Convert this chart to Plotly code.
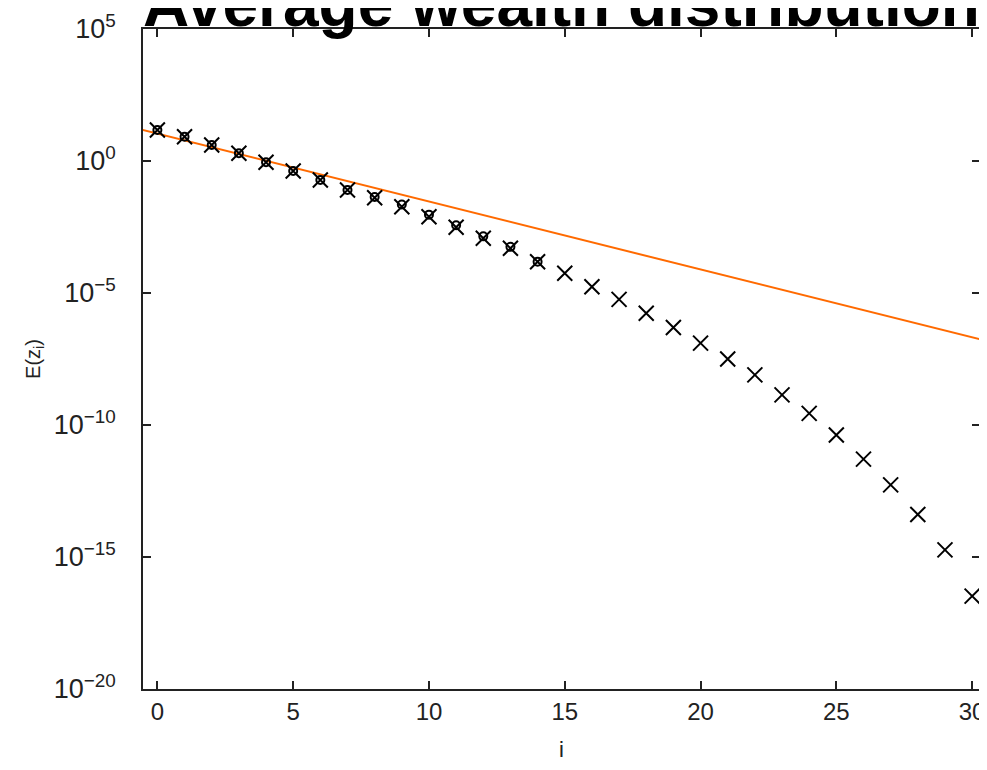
import plotly.graph_objects as go

# Data (log-scale y)
i_vals = list(range(31))
ez_x = [14.9, 8.3, 4.04, 1.96, 0.893, 0.418, 0.19, 0.0798, 0.0407, 0.0186,
        0.00776, 0.00309, 0.00118, 4.93e-4, 1.53e-4, 5.57e-5, 1.73e-5, 5.75e-6,
        1.70e-6, 4.9e-7, 1.26e-7, 3.16e-8, 7.9e-9, 1.38e-9, 2.75e-10, 4.17e-11,
        5.1e-12, 5.4e-13, 4.1e-14, 1.86e-15, 3.3e-17]
i_circ = list(range(15))
ez_circ = [14.9, 8.3, 4.04, 1.96, 0.893, 0.418, 0.19, 0.0798, 0.0430, 0.0225,
           0.0093, 0.0037, 0.00140, 5.6e-4, 1.53e-4]
fit_i = [-1, 31]
fit_ez = [19.6, 1.16e-7]

ytick_vals = [1e-20, 1e-15, 1e-10, 1e-5, 1e0, 1e5]
ytick_text = ["10<sup>\u221220</sup>", "10<sup>\u221215</sup>", "10<sup>\u221210</sup>",
              "10<sup>\u22125</sup>", "10<sup>0</sup>", "10<sup>5</sup>"]
xtick_vals = [0, 5, 10, 15, 20, 25, 30]

FONT = "Liberation Sans, Arial, sans-serif"
INK = "#222222"

fig = go.Figure()
fig.add_trace(go.Scatter(
    x=fit_i, y=fit_ez, mode="lines",
    line=dict(color="#ff6a00", width=2), showlegend=False))
fig.add_trace(go.Scatter(
    x=i_circ, y=ez_circ, mode="markers",
    marker=dict(symbol="circle-open", size=8, color="black",
                line=dict(color="black", width=2)),
    showlegend=False))
fig.add_trace(go.Scatter(
    x=i_vals, y=ez_x, mode="markers",
    marker=dict(symbol="x-thin-open", size=15, color="black",
                line=dict(color="black", width=2)),
    showlegend=False))

# the page body adds an 8px offset, so the figure is 8px smaller and margins compensate
fig.update_layout(
    width=979, height=762,
    margin=dict(l=135, r=7, t=21, b=81, autoexpand=False),
    paper_bgcolor="white", plot_bgcolor="white",
    font=dict(family=FONT, color=INK),
    annotations=[
        dict(text="<b>Average wealth distribution</b>", xref="paper", yref="paper",
             x=0.5, y=1, xanchor="center", yanchor="bottom", yshift=-13,
             showarrow=False, font=dict(size=64, color="black", family=FONT)),
        dict(text="i", xref="paper", yref="paper",
             x=0.5, y=0, xanchor="center", yanchor="top", yshift=-46,
             showarrow=False, font=dict(size=22, color=INK, family=FONT)),
    ],
)
fig.update_xaxes(
    range=[-0.53, 30.29], tickvals=xtick_vals, ticks="inside", ticklen=8,
    tickwidth=1.5, tickcolor=INK, showline=True, linecolor=INK, linewidth=1.5,
    mirror="ticks", showgrid=False, zeroline=False, automargin=False,
    tickfont=dict(size=24, family=FONT, color=INK))
fig.update_yaxes(
    type="log", range=[-20, 5], tickvals=ytick_vals, ticktext=ytick_text,
    ticks="inside", ticklen=8, tickwidth=1.5, tickcolor=INK,
    showline=True, linecolor=INK, linewidth=1.5, mirror="ticks",
    showgrid=False, zeroline=False, ticklabelstandoff=20, automargin=False,
    tickfont=dict(size=27, family=FONT, color=INK),
    title=dict(text="E(z<sub>i</sub>)", font=dict(size=20, family=FONT, color=INK), standoff=8))

fig.write_html("out.html")
